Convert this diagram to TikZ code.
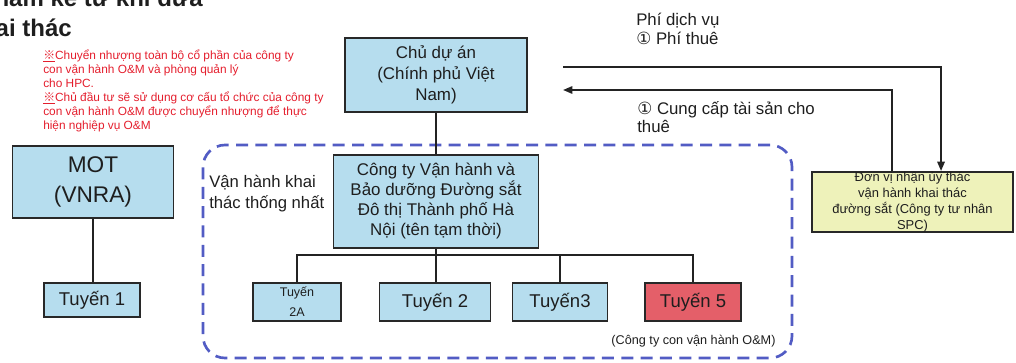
\documentclass[tikz,border=0pt]{standalone}
\usepackage{fontspec}
\setmainfont{Liberation Sans}
\newfontfamily\cjkfont{Noto Sans CJK SC}
\newfontfamily\symfont{DejaVu Sans}
\usetikzlibrary{arrows.meta}

\definecolor{boxblue}{RGB}{182,221,238}
\definecolor{boxred}{RGB}{228,95,105}
\definecolor{boxyellow}{RGB}{238,242,186}
\definecolor{boxline}{RGB}{40,40,40}
\definecolor{connline}{RGB}{35,35,35}
\definecolor{textdark}{RGB}{30,30,30}
\definecolor{notered}{RGB}{228,30,45}
\definecolor{groupblue}{RGB}{82,92,196}

\newcommand{\fsz}[2]{\fontsize{#1}{#2}\selectfont}
\newcommand{\circone}{{\symfont ①}}

\begin{document}
\begin{tikzpicture}[x=0.75pt,y=-0.75pt,
  box/.style={draw=boxline, line width=1.1pt, fill=boxblue, inner sep=0pt,
              align=center, text=textdark},
  linebox/.style={box, minimum height=38*0.75pt, font=\fsz{13.9}{16}},
  conn/.style={draw=connline, line width=1.4pt},
  arrowconn/.style={conn, -{Triangle[length=7pt,width=5.5pt]}},
  groupbox/.style={draw=groupblue, line width=2pt, dash pattern=on 9pt off 5.5pt,
                   rounded corners=16.5pt, inner sep=0pt},
  label/.style={inner sep=0pt, align=left, text=textdark}]

\useasboundingbox (0,0) rectangle (1016,363);

% heading running off the page edge
\node[anchor=base east, inner sep=0pt, text=textdark, font=\bfseries\fsz{18}{22}] (headA) at (203,7) {năm kể từ khi đưa};
\node[anchor=base east, inner sep=0pt, text=textdark, font=\bfseries\fsz{18}{22}] (headB) at (72,37) {khai thác};

% red remarks
\node[anchor=north west, inner sep=0pt, align=left, text=notered, font=\fsz{8.9}{10.5}] (note) at (43,50)
  {\underline{\cjkfont ※}Chuyển nhượng toàn bộ cổ phần của công ty\\
   con vận hành O\&M và phòng quản lý\\
   cho HPC.\\
   \underline{\cjkfont ※}Chủ đầu tư sẽ sử dụng cơ cấu tổ chức của công ty\\
   con vận hành O\&M được chuyển nhượng để thực\\
   hiện nghiệp vụ O\&M};

% unified operation area
\node[groupbox, minimum width=589*0.75pt, minimum height=213*0.75pt] (group) at (497.5,251.5) {};
\node[label, anchor=west, font=\fsz{12.5}{15.75}] (grouplabel) at (209,193.5) {Vận hành khai\\thác thống nhất};

% boxes
\node[box, minimum width=182*0.75pt, minimum height=74*0.75pt, font=\fsz{12.7}{15.75}] (owner) at (436,75)
  {Chủ dự án\\(Chính phủ Việt\\Nam)};
\node[box, minimum width=205*0.75pt, minimum height=93*0.75pt, font=\fsz{12.7}{15}] (company) at (436,201.5)
  {Công ty Vận hành và\\Bảo dưỡng Đường sắt\\Đô thị Thành phố Hà\\Nội (tên tạm thời)};
\node[box, minimum width=161*0.75pt, minimum height=72*0.75pt, font=\fsz{17}{23}] (mot) at (93,182)
  {MOT\\(VNRA)};
\node[linebox, minimum width=96*0.75pt, minimum height=34*0.75pt] (t1) at (92,300) {Tuyến 1};
\node[linebox, minimum width=88*0.75pt, font=\fsz{9.4}{15}] (t2a) at (297,302) {Tuyến\\2A};
\node[linebox, minimum width=111*0.75pt] (t2) at (435,302) {Tuyến 2};
\node[linebox, minimum width=95*0.75pt] (t3) at (560,302) {Tuyến3};
\node[linebox, minimum width=96*0.75pt, fill=boxred] (t5) at (693,302) {Tuyến 5};
\node[box, fill=boxyellow, minimum width=201*0.75pt, minimum height=60*0.75pt, font=\fsz{9.7}{12}] (spc) at (912.5,202)
  {Đơn vị nhận ủy thác\\vận hành khai thác\\đường sắt (Công ty tư nhân\\SPC)};

\node[inner sep=0pt, text=textdark, font=\fsz{9.5}{11}] (subsid) at (693.5,341) {(Công ty con vận hành O\&M)};

% tree connectors
\coordinate (bus) at (436,255);
\draw[conn] (owner.south) -- (owner.south |- company.north);
\draw[conn] (company.south) -- (company.south |- t2.north);
\draw[conn] (t2a.north) |- (bus) -| (t5.north);
\draw[conn] (t3.north) -- (t3.north |- bus);
\draw[conn] (mot.south) -- (mot.south |- t1.north);

% flows between owner and SPC
\coordinate (feeStart) at (563,67);
\coordinate (leaseEnd) at (563,90);
\draw[arrowconn] (feeStart) -| ([xshift=21.4pt]spc.north);
\draw[arrowconn] ([xshift=-15.4pt]spc.north) |- (leaseEnd);

\node[label, anchor=west, font=\fsz{12.6}{14.25}] (feelabel) at (636,28.5) {Phí dịch vụ\\\circone{} Phí thuê};
\node[label, anchor=west, font=\fsz{12.6}{13.5}] (leaselabel) at (637,117) {\circone{} Cung cấp tài sản cho\\thuê};

\end{tikzpicture}
\end{document}
